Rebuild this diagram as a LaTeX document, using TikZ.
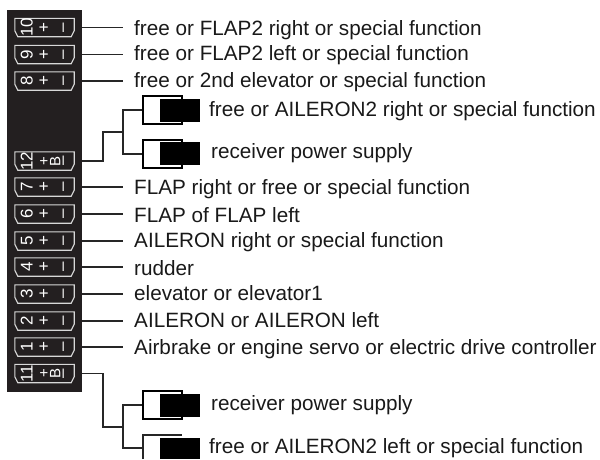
\documentclass[tikz,border=0pt]{standalone}
\usepackage{fontspec}
\setmainfont{Liberation Sans}
\usetikzlibrary{calc, positioning, backgrounds}
\definecolor{panelblack}{HTML}{231F20}
\definecolor{sockgray}{HTML}{D8D8D8}
\tikzstyle{panel}=[inner sep=0pt, fill=panelblack, minimum width=75pt, minimum height=382pt]
\tikzstyle{sock}=[inner sep=0pt, minimum width=59pt, minimum height=18pt]
\tikzstyle{pin}=[inner sep=0pt, text=white, rotate=90, font=\fontsize{17}{17}\selectfont]
\tikzstyle{txt}=[inner sep=0pt, anchor=base west, text=black!90, font=\fontsize{20.7}{22}\selectfont]
\tikzstyle{plugbox}=[inner sep=0pt, draw=black, line width=1.2pt, minimum width=39pt, minimum height=28pt]
\tikzstyle{plugtip}=[inner sep=0pt, fill=black, minimum width=40pt, minimum height=23pt]
\tikzstyle{wire}=[line width=1.2pt, draw=black!85]
\tikzstyle{rim}=[sockgray, line width=1.1pt]
\begin{document}
\begin{tikzpicture}[x=1pt, y=-1pt]
\useasboundingbox (0,0) rectangle (600,459);
\node[panel] (P) at (44.5,201) {};

% sockets and their labels
\foreach \j/\y/\b/\t in {10/27.5/35/free or FLAP2 right or special function,
 9/54.5/60/free or FLAP2 left or special function,
 8/81/87/free or 2nd elevator or special function,
 7/187/194/FLAP right or free or special function,
 6/214/222/FLAP of FLAP left,
 5/241/247.5/AILERON right or special function,
 4/267/275/rudder,
 3/294/300/elevator or elevator1,
 2/321/327/AILERON or AILERON left,
 1/347/354/Airbrake or engine servo or electric drive controller}{
\node[sock] (S\j) at (44.5,\y) {};
\draw[rim] (S\j.north west) -- (S\j.north east) -- ($(S\j.south east)+(0,-6)$) -- ($(S\j.south east)+(-3,0)$) -- ($(S\j.south west)+(3,0)$) -- ($(S\j.south west)+(0,-6)$) -- cycle;
\node[pin] (N\j) at ($(S\j.west)+(12,0)$) {\j};
\node[pin] (A\j) at ($(S\j.center)+(0,0)$) {+};
\node[pin] (M\j) at ($(S\j.east)+(-9,0)$) {\textendash};
\node[txt] (T\j) at (134,\b) {\t};
\coordinate (W\j) at (123,\y);
\draw[wire] (P.east |- S\j) -- (W\j);
}

% the two battery sockets
\foreach \j/\y in {12/161,11/373.5}{
\node[sock] (S\j) at (44.5,\y) {};
\draw[rim] (S\j.north west) -- (S\j.north east) -- ($(S\j.south east)+(0,-6)$) -- ($(S\j.south east)+(-3,0)$) -- ($(S\j.south west)+(3,0)$) -- ($(S\j.south west)+(0,-6)$) -- cycle;
\node[pin] (N\j) at ($(S\j.west)+(12,0)$) {\j};
\node[pin, font=\fontsize{15}{15}\selectfont] (A\j) at ($(S\j.center)+(0,0)$) {+};
\node[pin, font=\fontsize{15}{15}\selectfont] (B\j) at ($(S\j.east)+(-19,0)$) {B};
\node[pin] (M\j) at ($(S\j.east)+(-9,0)$) {\textendash};
}

\node[plugbox] (C0) at (162.5,110) {};
\node[plugtip] (D0) at (180,110.5) {};
\node[plugbox] (C1) at (162.5,154) {};
\node[plugtip] (D1) at (180,153.5) {};
\node[plugbox] (C2) at (162.5,405) {};
\node[plugtip] (D2) at (180,405) {};
\node[plugtip, minimum height=21pt] (D3) at (180,448.5) {};

\node[txt] (T12) at (209,116) {free or AILERON2 right or special function};
\node[txt] (T13) at (211,158) {receiver power supply};
\node[txt] (T14) at (211,410) {receiver power supply};
\node[txt] (T15) at (209,453) {free or AILERON2 left or special function};

\coordinate (J0) at (123,132);
\coordinate (J1) at (123,427);
\coordinate (E0) at (143,435);
\coordinate (E1) at (182,435);
\coordinate (E2) at (143,459);
\coordinate (E3) at (123,448);

\draw[wire] (P.east |- S12) -| (103,132) -- (J0);
\draw[wire] (C0.west) -| (J0) |- (C1.west);
\draw[wire] (P.east |- S11) -| (103,427) -- (J1);
\draw[wire] (C2.west) -| (J1) |- (E3) -- (E3 -| E0);
\draw[wire] (E2) -- (E0) -- (E1);
\end{tikzpicture}
\end{document}
